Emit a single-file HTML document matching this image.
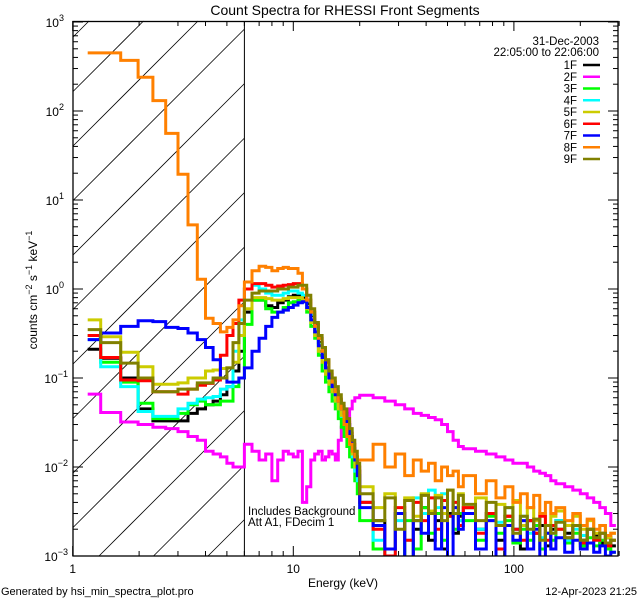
<!DOCTYPE html>
<html><head><meta charset="utf-8"><style>
html,body{margin:0;padding:0;background:#fff;width:640px;height:600px;overflow:hidden;}
svg{display:block;font-family:"Liberation Sans",sans-serif;}
</style></head><body>
<svg id="chart" width="640" height="600" viewBox="0 0 640 600" xmlns="http://www.w3.org/2000/svg">
<rect x="0" y="0" width="640" height="600" fill="#fff"/>
<defs><clipPath id="plotclip"><rect x="73" y="21" width="545" height="535"/></clipPath></defs>
<text x="345" y="15" font-size="14" text-anchor="middle">Count Spectra for RHESSI Front Segments</text>
<g id="hatch"></g>
<line x1="244.4" y1="21" x2="244.4" y2="556" stroke="#000" stroke-width="1"/>
<g id="series" clip-path="url(#plotclip)"></g>
<rect x="73" y="21.5" width="545" height="534.5" fill="none" stroke="#000" stroke-width="1.3"/>
<g id="axes"></g>
<text transform="translate(37,290) rotate(-90)" font-size="12" text-anchor="middle">counts cm<tspan dy="-5" font-size="9">−2</tspan><tspan dy="5"> s</tspan><tspan dy="-5" font-size="9">−1</tspan><tspan dy="5"> keV</tspan><tspan dy="-5" font-size="9">−1</tspan></text>
<text x="343" y="587" font-size="12" text-anchor="middle">Energy (keV)</text>
<text x="1" y="595" font-size="11">Generated by hsi_min_spectra_plot.pro</text>
<text x="637" y="595" font-size="11" text-anchor="end">12-Apr-2023 21:25</text>
<text x="248" y="515" font-size="11.5">Includes Background</text>
<text x="248" y="526" font-size="11.5">Att A1, FDecim  1</text>
<text x="599" y="45" font-size="11.5" text-anchor="end">31-Dec-2003</text>
<text x="599" y="56" font-size="11.5" text-anchor="end">22:05:00 to 22:06:00</text>
<g id="legend"></g>
</svg>
<script>
const edges=[1.17,1.34,1.65,1.98,2.31,2.64,3.0,3.33,3.67,4.0,4.33,4.67,5.0,5.33,5.67,6.0,
6.5,7,7.5,8,8.5,9,9.5,10,10.5,11,11.5,12,12.5,13,13.5,14,14.5,15,15.5,16,16.5,17,17.5,18,18.5,19,19.5,20,
23,26,29,32,35,38,41,44,47,50,53,56,59,67,75,83,91,99,107,115,123,131,139,147,155,170,185,200,215,230,245,260,275,290];
const seriesNames=["1F","2F","3F","4F","5F","6F","7F","8F","9F"];
const s1F=[0.21,0.167,0.1,0.045,0.033,0.033,0.033,0.04,0.045,0.05,0.055,0.065,0.08,0.12,0.2,
0.55,0.75,0.75,0.65,0.62,0.7,0.75,0.82,0.85,0.85,0.8,0.68,0.5,0.36,0.25,0.18,0.13,0.1,0.08,0.065,0.055,0.045,0.038,0.03,0.022,0.016,0.012,0.009,
0.004,0.0025,0.0012,0.003,0.0008,0.002,0.0035,0.0015,0.0025,0.0012,0.003,0.0018,0.0028,0.0035,0.002,0.003,0.0015,0.0028,0.002,0.0012,0.0025,0.0018,0.0022,0.0013,0.002,0.0025,0.0018,0.0022,0.0015,0.002,0.0017,0.0014,0.0016,0.0013];
const s2F=[0.066,0.041,0.032,0.03,0.028,0.027,0.025,0.022,0.02,0.015,0.014,0.013,0.011,0.01,0.01,
0.018,0.015,0.012,0.014,0.007,0.012,0.015,0.014,0.013,0.015,0.004,0.006,0.012,0.014,0.015,0.012,0.013,0.015,0.014,0.012,0.02,0.028,0.03,0.028,0.045,0.055,0.06,0.06,
0.064,0.06,0.055,0.05,0.045,0.04,0.038,0.036,0.034,0.03,0.025,0.02,0.017,0.016,0.015,0.014,0.013,0.012,0.011,0.011,0.01,0.009,0.0085,0.008,0.007,0.0065,0.006,0.0055,0.005,0.0045,0.004,0.0035,0.003,0.0022];
const s3F=[0.3,0.15,0.09,0.052,0.035,0.035,0.04,0.05,0.055,0.05,0.05,0.055,0.055,0.08,0.1,
0.4,0.75,0.75,0.6,0.55,0.55,0.62,0.7,0.72,0.75,0.72,0.55,0.38,0.28,0.18,0.12,0.09,0.07,0.055,0.045,0.035,0.028,0.022,0.017,0.013,0.01,0.007,0.005,
0.0025,0.0012,0.0007,0.0008,0.0025,0.0012,0.0035,0.0018,0.003,0.0015,0.0028,0.002,0.003,0.0025,0.0015,0.0028,0.0018,0.0025,0.0014,0.002,0.0015,0.0022,0.0012,0.0018,0.0015,0.002,0.0014,0.0018,0.0013,0.0016,0.0013,0.0015,0.0012,0.0011];
const s4F=[0.27,0.134,0.08,0.042,0.037,0.037,0.045,0.052,0.058,0.06,0.062,0.075,0.08,0.2,0.45,
1.0,1.1,1.0,0.9,0.85,0.85,0.9,0.95,0.95,0.9,0.85,0.75,0.52,0.36,0.24,0.17,0.12,0.09,0.07,0.055,0.045,0.037,0.03,0.024,0.018,0.013,0.009,0.007,
0.004,0.0015,0.0008,0.0025,0.0015,0.0045,0.003,0.0055,0.0035,0.005,0.0028,0.004,0.0025,0.0035,0.002,0.003,0.0024,0.0035,0.002,0.0028,0.0018,0.0025,0.0016,0.0022,0.0018,0.0025,0.0015,0.002,0.0017,0.002,0.0015,0.0018,0.0014,0.0015];
const s5F=[0.45,0.29,0.195,0.134,0.085,0.085,0.088,0.1,0.1,0.12,0.123,0.128,0.13,0.15,0.3,
0.6,0.8,0.8,0.78,0.75,0.75,0.78,0.8,0.8,0.8,0.75,0.6,0.42,0.3,0.2,0.15,0.11,0.085,0.07,0.055,0.045,0.038,0.03,0.024,0.018,0.014,0.01,0.008,
0.006,0.0035,0.005,0.003,0.0045,0.0028,0.005,0.0032,0.0048,0.003,0.0055,0.0035,0.005,0.0035,0.0045,0.0025,0.0038,0.0028,0.0042,0.0022,0.0035,0.0025,0.003,0.0022,0.0028,0.0032,0.0022,0.0028,0.002,0.0025,0.0018,0.0022,0.0016,0.0018];
const s6F=[0.3,0.17,0.095,0.093,0.07,0.07,0.066,0.075,0.083,0.087,0.095,0.18,0.3,0.41,0.75,
1.0,1.15,1.15,1.1,1.05,1.08,1.1,1.12,1.15,1.15,1.0,0.75,0.55,0.4,0.28,0.2,0.15,0.11,0.09,0.07,0.058,0.048,0.04,0.032,0.024,0.018,0.013,0.01,
0.004,0.002,0.001,0.0035,0.0015,0.004,0.0025,0.0045,0.002,0.0042,0.0028,0.004,0.0022,0.0035,0.0018,0.003,0.0012,0.0028,0.002,0.0015,0.0025,0.0018,0.0028,0.0015,0.0022,0.002,0.0016,0.0022,0.0014,0.002,0.0015,0.0018,0.0013,0.0015];
const s7F=[0.27,0.32,0.38,0.44,0.43,0.37,0.36,0.32,0.27,0.22,0.16,0.1,0.09,0.09,0.1,
0.13,0.2,0.28,0.38,0.48,0.55,0.58,0.62,0.66,0.7,0.72,0.62,0.45,0.33,0.23,0.17,0.13,0.1,0.08,0.065,0.055,0.045,0.04,0.03,0.022,0.016,0.012,0.008,
0.0035,0.0022,0.0012,0.003,0.0009,0.0025,0.0018,0.003,0.0012,0.0035,0.0009,0.0035,0.002,0.003,0.0012,0.0025,0.0008,0.0022,0.0015,0.0025,0.0012,0.002,0.0009,0.0018,0.0012,0.0016,0.0011,0.0015,0.0012,0.0014,0.0011,0.0013,0.001,0.0011];
const s8F=[450,450,370,240,131,56,19.5,5.25,1.29,0.47,0.41,0.33,0.37,0.45,0.65,
1.2,1.6,1.8,1.75,1.6,1.7,1.75,1.7,1.7,1.5,1.0,0.75,0.55,0.38,0.28,0.2,0.16,0.12,0.09,0.07,0.055,0.045,0.03,0.022,0.018,0.015,0.013,0.012,
0.012,0.018,0.01,0.014,0.008,0.012,0.009,0.011,0.007,0.01,0.008,0.009,0.006,0.008,0.005,0.007,0.0045,0.006,0.004,0.005,0.0035,0.0048,0.003,0.004,0.003,0.0035,0.0025,0.003,0.0022,0.0026,0.002,0.0022,0.0017,0.0018];
const s9F=[0.35,0.25,0.147,0.1,0.07,0.07,0.075,0.075,0.088,0.088,0.1,0.1,0.13,0.25,0.41,
0.75,0.9,0.95,0.95,0.95,1.0,1.0,1.05,1.05,1.1,1.1,0.85,0.6,0.42,0.3,0.22,0.16,0.12,0.1,0.08,0.065,0.052,0.045,0.035,0.027,0.02,0.015,0.011,
0.005,0.0025,0.0045,0.002,0.0042,0.0025,0.0048,0.003,0.0045,0.0025,0.0055,0.003,0.0048,0.0038,0.0025,0.004,0.0022,0.0035,0.0018,0.0028,0.002,0.0026,0.0015,0.0022,0.0018,0.0024,0.0016,0.0022,0.0015,0.002,0.0016,0.0018,0.0014,0.0015];
const xTickLabels=["1","10","100"];
const yTickExps=[-3,-2,-1,0,1,2,3];

const NS="http://www.w3.org/2000/svg";
const X0=72.7, XD=220.6, YB=556, YD=89;
function xs(e){return X0+XD*Math.log10(e);}
function ys(v){return YB-(Math.log10(Math.max(v,1e-4))+3)*YD;}
function mk(tag,attrs,parent){const el=document.createElementNS(NS,tag);for(const k in attrs)el.setAttribute(k,attrs[k]);parent.appendChild(el);return el;}

// hatch (lines y = k - x clipped to region)
const hg=document.getElementById('hatch');
for(let n=-12;n<12;n++){const k=655+n*54.5;
  const lo=Math.max(73,k-556), hi=Math.min(244.4,k-21);
  if(lo>=hi) continue;
  const ln=mk('line',{x1:lo,y1:k-lo,x2:hi,y2:k-hi,stroke:'#000','stroke-width':0.8},hg);
  
  
}

// axes
const ag=document.getElementById('axes');
for(const ex of yTickExps){
  const y=ys(Math.pow(10,ex));
  mk('line',{x1:73,y1:y,x2:83,y2:y,stroke:'#000'},ag);
  mk('line',{x1:608,y1:y,x2:618,y2:y,stroke:'#000'},ag);
  const t=mk('text',{x:66,y:y+5,'font-size':12,'text-anchor':'end'},ag);
  
  
  t.innerHTML='10<tspan dy="-6" font-size="9">'+(ex<0?'−'+(-ex):ex)+'</tspan>';
  t.setAttribute('x',ex<0?68:64);
  if(ex<3){for(let m=2;m<10;m++){const yy=ys(m*Math.pow(10,ex));
    mk('line',{x1:73,y1:yy,x2:78,y2:yy,stroke:'#000'},ag);
    mk('line',{x1:613,y1:yy,x2:618,y2:yy,stroke:'#000'},ag);}}
}
for(let d=0;d<3;d++){
  const base=Math.pow(10,d);const x=xs(base);
  mk('line',{x1:x,y1:556,x2:x,y2:546,stroke:'#000'},ag);
  mk('line',{x1:x,y1:21,x2:x,y2:31,stroke:'#000'},ag);
  const t=mk('text',{x:x,y:573,'font-size':12,'text-anchor':'middle'},ag);
  
  
  t.textContent=xTickLabels[d];
  for(let m=2;m<10;m++){const v=m*base;if(v>300)break;const xx=xs(v);
    mk('line',{x1:xx,y1:556,x2:xx,y2:551,stroke:'#000'},ag);
    mk('line',{x1:xx,y1:21,x2:xx,y2:26,stroke:'#000'},ag);}
}

// series
const colors=["#000000","#ff00ff","#00ff00","#00ffff","#cccc00","#ff0000","#0000ff","#ff8000","#808000"];
const data=[s1F,s2F,s3F,s4F,s5F,s6F,s7F,s8F,s9F];
const sg=document.getElementById('series');
data.forEach((vals,si)=>{
  let d='';
  for(let i=0;i<vals.length;i++){
    const xa=xs(edges[i]).toFixed(1), xb=xs(edges[i+1]).toFixed(1), y=ys(vals[i]).toFixed(1);
    d+=(i===0?'M':'L')+xa+' '+y+' L'+xb+' '+y+' ';
  }
  const p=mk('path',{d:d,fill:'none',stroke:colors[si],'stroke-width':3,'stroke-linejoin':'miter'},sg);
  
  
});

// legend
const lg=document.getElementById('legend');
seriesNames.forEach((nm,i)=>{
  const y=65+i*11.75;
  const t=mk('text',{x:577,y:y+4,'font-size':11.5,'text-anchor':'end'},lg);
  
  
  t.textContent=nm;
  const l=mk('line',{x1:583,y1:y,x2:600,y2:y,stroke:colors[i],'stroke-width':2.5},lg);
  
  
});
</script>
</body></html>
